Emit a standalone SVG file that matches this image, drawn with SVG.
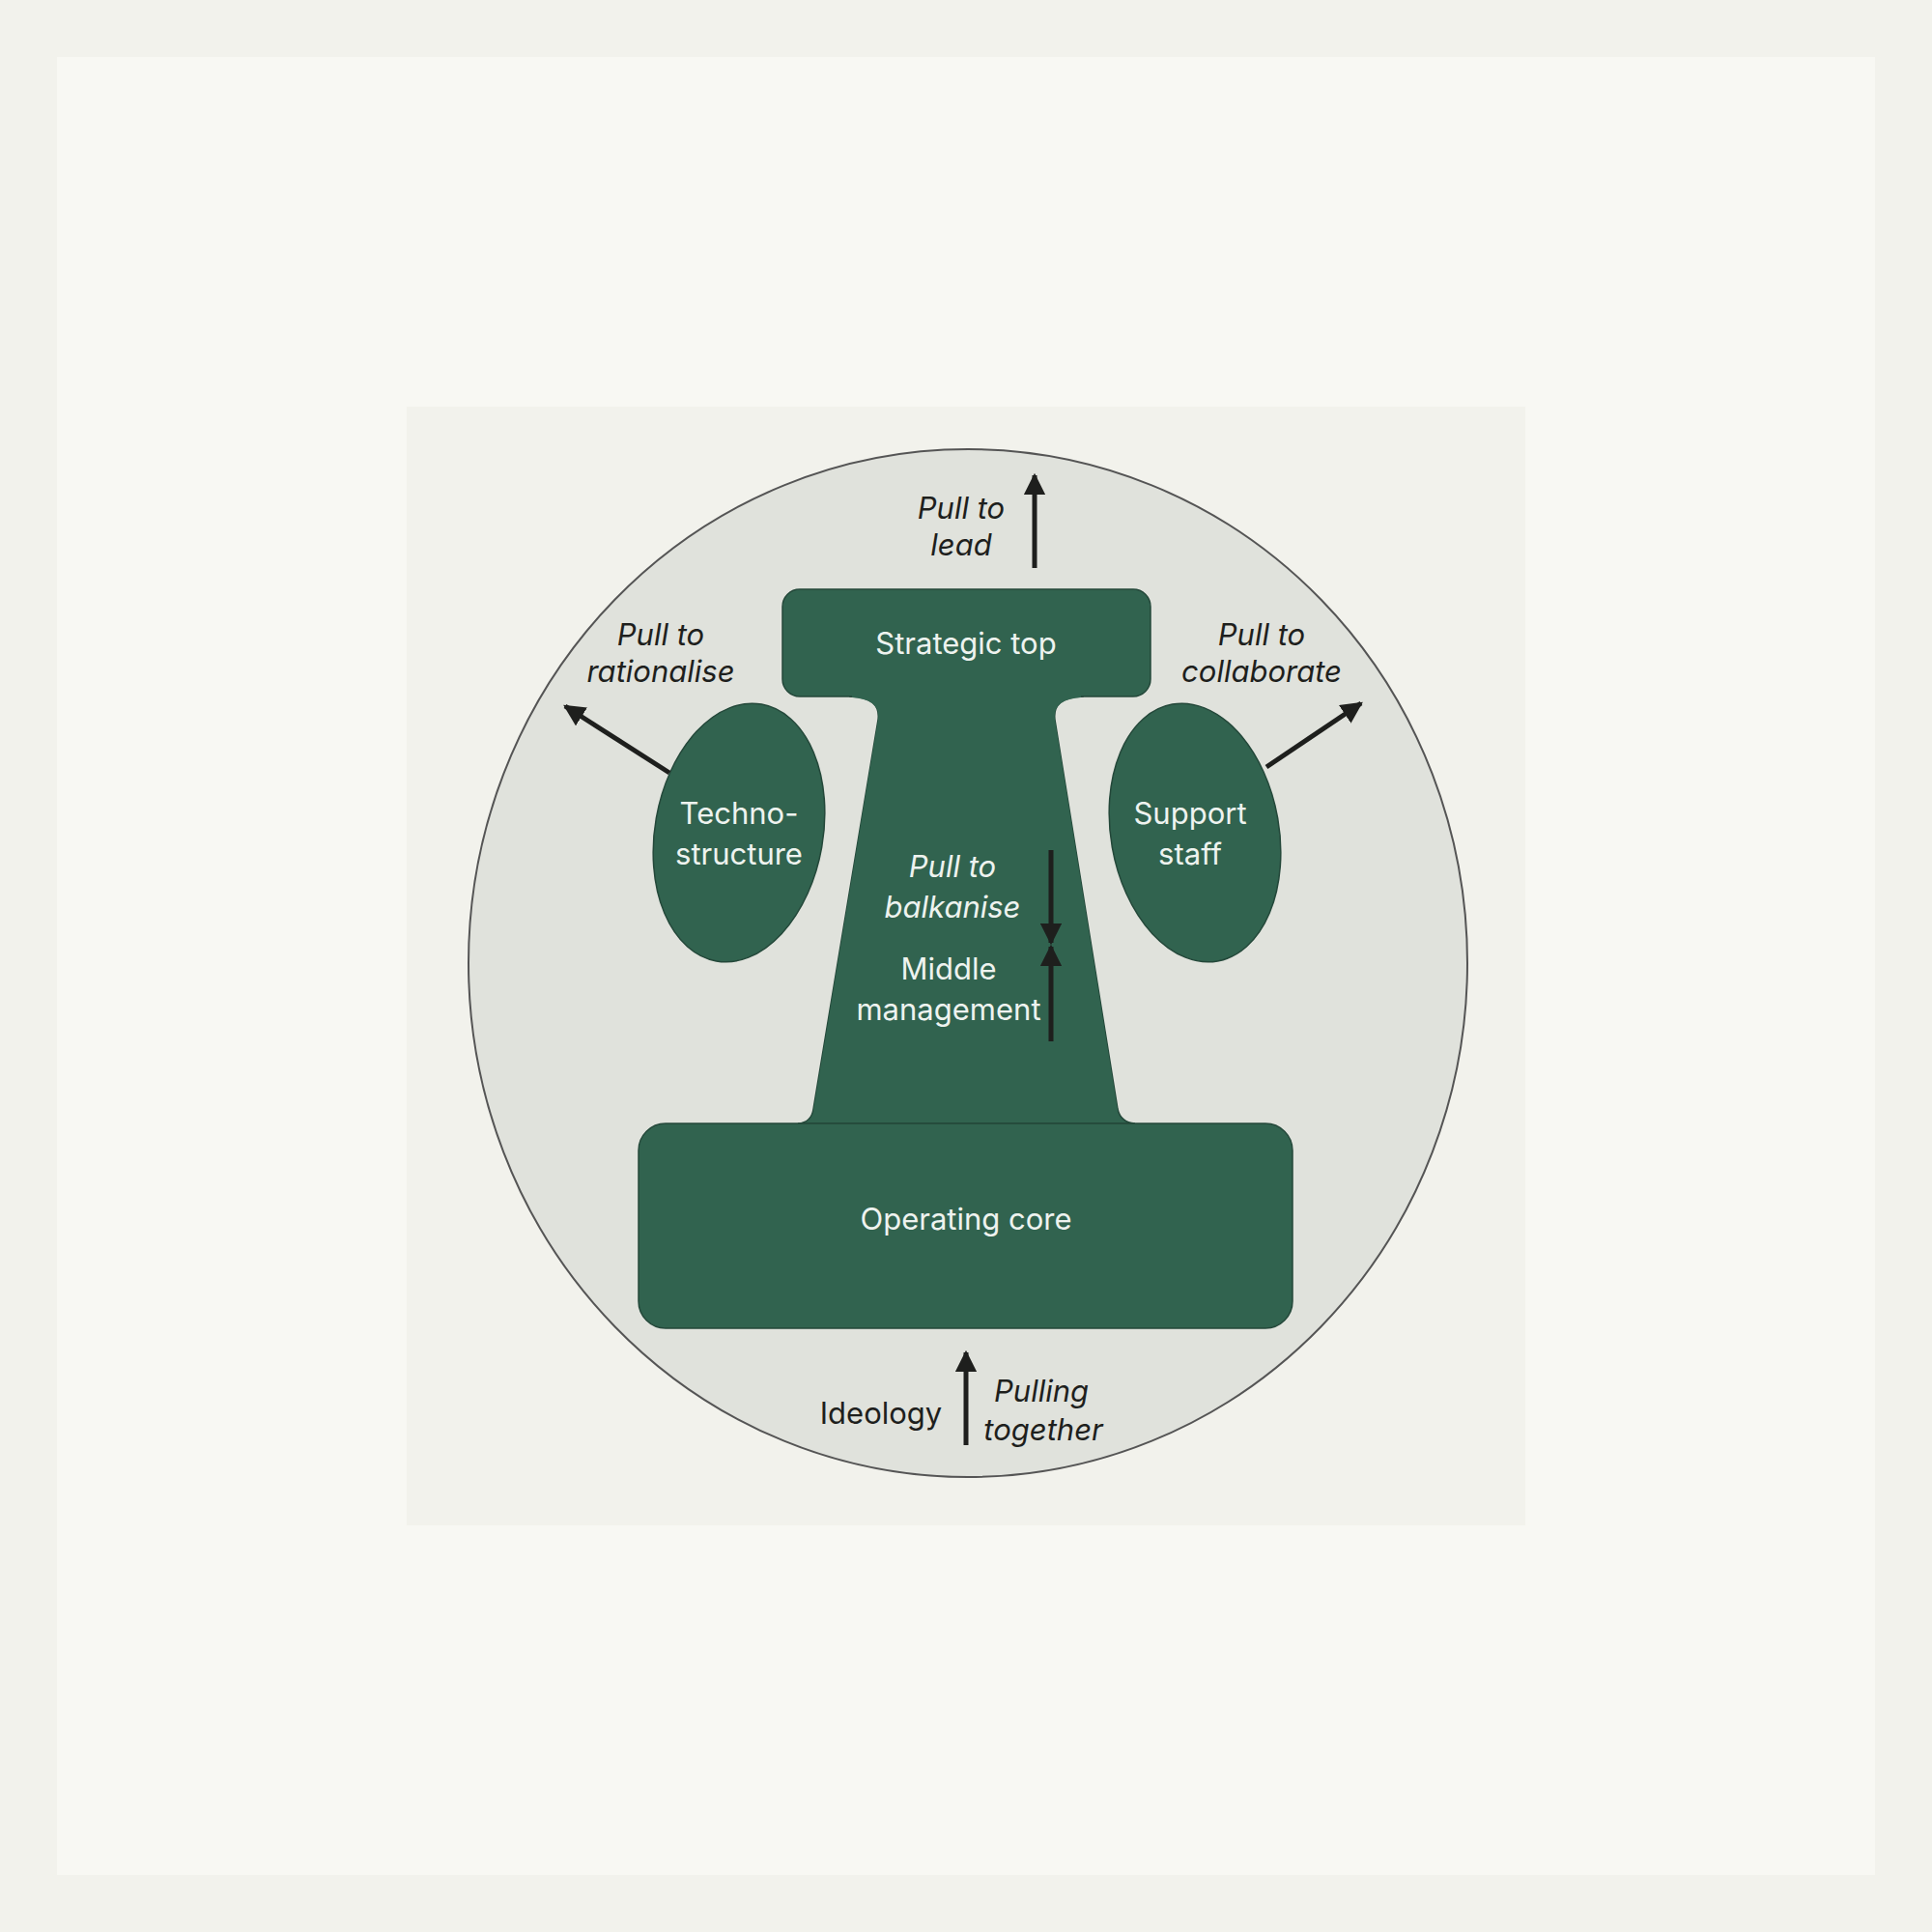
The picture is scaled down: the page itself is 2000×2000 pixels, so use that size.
<svg xmlns="http://www.w3.org/2000/svg" width="2000" height="2000" viewBox="0 0 2000 2000">
<defs>
<style>
.g{fill:#31634f;stroke:#24483a;stroke-width:1.5}
.w{fill:#eef3ef;font-family:Inter,"Liberation Sans",sans-serif;font-size:31px;text-anchor:middle}
.d{fill:#1e1f1d;font-family:Inter,"Liberation Sans",sans-serif;font-size:31px;text-anchor:middle}
.i{font-style:italic}
.a{stroke:#1e1f1d;stroke-width:5;fill:none}
</style>
<marker id="ah" viewBox="0 0 10 10" refX="9" refY="5" markerWidth="4.5" markerHeight="4.5" orient="auto"><path d="M0,0L10,5L0,10z" fill="#1e1f1d"/></marker>
</defs>
<rect width="2000" height="2000" fill="#f2f2ec"/>
<rect x="59" y="59" width="1882" height="1882" fill="#f8f8f3"/>
<rect x="421" y="421" width="1158" height="1158" fill="#f2f2ec"/>
<ellipse cx="1002" cy="997" rx="517" ry="532" fill="#e0e2dc" stroke="#555" stroke-width="2"/>
<g id="trunk"><path class="g" d="M880,715 L880,721 Q912,722 909,745 L842,1148 Q840,1162 826,1163 L1175,1163 Q1160,1162 1157,1148 L1092,745 Q1089,722 1121,721 L1121,715 Z"/></g>
<g id="strategic-top"><rect class="g" x="810" y="610" width="381" height="111" rx="18"/><text class="w" x="1000" y="677">Strategic top</text></g>
<g id="operating-core"><rect class="g" x="661" y="1163" width="677" height="212" rx="28"/><text class="w" x="1000" y="1273">Operating core</text></g>
<path d="M882,716 L1119,716 L1119,722 Q1089,724 1092,745 L1157,1150 L842,1150 L909,745 Q912,724 882,722 Z" fill="#31634f"/>
<g id="middle-management"><text class="w i" x="986" y="908">Pull to</text><text class="w i" x="986" y="950">balkanise</text><text class="w" x="982" y="1014">Middle</text><text class="w" x="982" y="1056">management</text></g>
<g id="technostructure"><ellipse class="g" cx="765" cy="862" rx="87" ry="135" transform="rotate(10 765 862)"/><text class="w" x="765" y="853">Techno-</text><text class="w" x="765" y="895">structure</text></g>
<g id="support-staff"><ellipse class="g" cx="1237" cy="862" rx="87" ry="135" transform="rotate(-10 1237 862)"/><text class="w" x="1232" y="853">Support</text><text class="w" x="1232" y="895">staff</text></g>
<g id="labels">
<text class="d i" x="995" y="537">Pull to</text><text class="d i" x="995" y="575">lead</text>
<text class="d i" x="684" y="668">Pull to</text><text class="d i" x="684" y="706">rationalise</text>
<text class="d i" x="1306" y="668">Pull to</text><text class="d i" x="1306" y="706">collaborate</text>
<text class="d" x="912" y="1474">Ideology</text>
<text class="d i" x="1078" y="1451">Pulling</text><text class="d i" x="1080" y="1491">together</text>
</g>
<g id="connectors">
<line class="a" x1="1071" y1="588" x2="1071" y2="492" marker-end="url(#ah)"/>
<line class="a" x1="693" y1="800" x2="585" y2="731" marker-end="url(#ah)"/>
<line class="a" x1="1311" y1="794" x2="1409" y2="728" marker-end="url(#ah)"/>
<line class="a" x1="1088" y1="880" x2="1088" y2="976" marker-end="url(#ah)"/>
<line class="a" x1="1088" y1="1078" x2="1088" y2="980" marker-end="url(#ah)"/>
<line class="a" x1="1000" y1="1496" x2="1000" y2="1400" marker-end="url(#ah)"/>
</g>
</svg>
